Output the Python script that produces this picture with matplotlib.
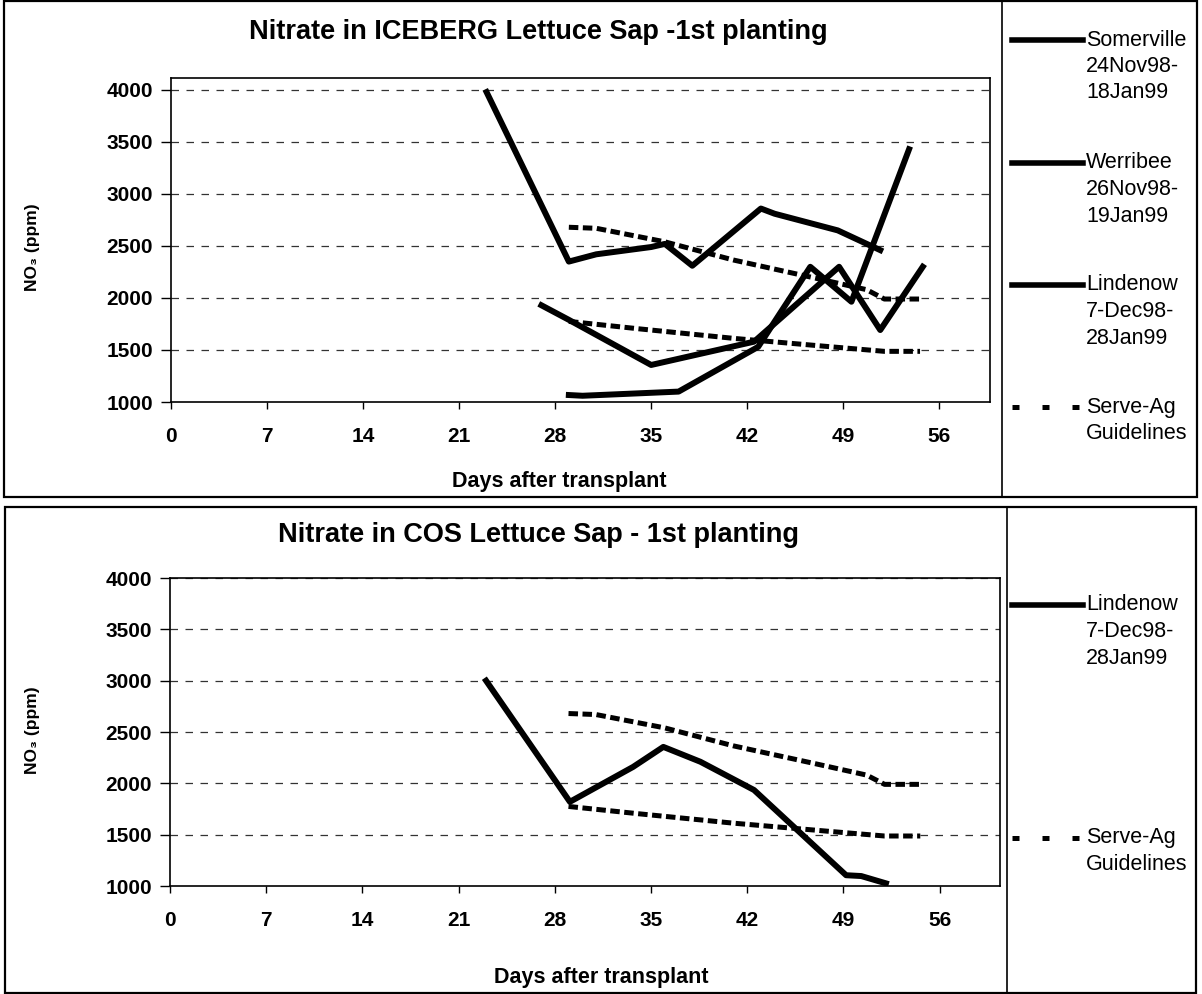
import matplotlib
matplotlib.use("Agg")
import matplotlib.pyplot as plt
from matplotlib.patches import Rectangle

plt.rcParams['font.family'] = ['Liberation Sans', 'DejaVu Sans']

# Nitrate in ICEBERG lettuce sap, 1st planting (days after transplant, ppm)
somerville_days = [23, 29, 31, 35, 36, 38, 43, 44, 48.6, 51.7]
somerville_no3 = [3980, 2350, 2420, 2490, 2520, 2310, 2860, 2810, 2650, 2460]
werribee_days = [27, 29, 35, 42.5, 48.7, 51.7, 54.8]
werribee_no3 = [1930, 1790, 1356, 1580, 2300, 1692, 2300]
lindenow_ice_days = [29, 30, 37, 42.8, 46.6, 49.6, 53.8]
lindenow_ice_no3 = [1067, 1060, 1100, 1530, 2300, 1964, 3430]

# Nitrate in COS lettuce sap, 1st planting
lindenow_cos_days = [23, 29.1, 33.7, 35.9, 38.6, 42.5, 49.2, 50.3, 52.1]
lindenow_cos_no3 = [3000, 1820, 2160, 2355, 2210, 1935, 1105, 1097, 1026]

# Serve-Ag guideline band (upper and lower)
guide_hi_days = [29, 31, 36, 41, 47, 50.7, 52, 54.6]
guide_hi_no3 = [2680, 2670, 2540, 2365, 2190, 2080, 1990, 1990]
guide_lo_days = [29, 34, 41, 48, 52, 54.6]
guide_lo_no3 = [1775, 1705, 1612, 1532, 1487, 1487]

day_ticks = [0, 7, 14, 21, 28, 35, 42, 49, 56]
no3_ticks = [1000, 1500, 2000, 2500, 3000, 3500, 4000]

W, H = 1202, 994
fig = plt.figure(figsize=(W / 100, H / 100), dpi=100)


def px_axes(left, top, right, bottom):
    return fig.add_axes([left / W, 1 - bottom / H, (right - left) / W, (bottom - top) / H])


def style_axes(ax, xmax, ymax):
    ax.set_xlim(0, xmax)
    ax.set_ylim(1000, ymax)
    ax.set_xticks(day_ticks, labels=[str(d) for d in day_ticks],
                  fontsize=15, fontweight='bold')
    ax.set_yticks(no3_ticks, labels=[str(v) for v in no3_ticks],
                  fontsize=15, fontweight='bold')
    ax.tick_params(axis='x', direction='out', length=5, width=1, pad=13)
    ax.tick_params(axis='y', direction='out', length=7, width=1, pad=6)
    for gv in no3_ticks[1:]:
        ax.axhline(gv, color='#333333', lw=0.9, dashes=(6, 6), zorder=1)
    for sp in ax.spines.values():
        sp.set_linewidth(1.2)
        sp.set_color('black')


def guideline(ax):
    ax.plot(guide_hi_days, guide_hi_no3, color='black', lw=3.6,
            dashes=(1.9, 0.9), zorder=3)
    ax.plot(guide_lo_days, guide_lo_no3, color='black', lw=3.6,
            dashes=(1.9, 0.9), zorder=3)


ax1 = px_axes(171, 78, 990, 402)
style_axes(ax1, 59.7, 4115)
guideline(ax1)
for d, v in [(somerville_days, somerville_no3),
             (werribee_days, werribee_no3),
             (lindenow_ice_days, lindenow_ice_no3)]:
    ax1.plot(d, v, color='black', lw=4.3, solid_joinstyle='round', zorder=4)

ax2 = px_axes(170, 578, 1000, 886)
style_axes(ax2, 60.4, 4000)
guideline(ax2)
ax2.plot(lindenow_cos_days, lindenow_cos_no3, color='black', lw=4.3,
         solid_joinstyle='round', zorder=4)

# overlay in pixel coordinates for frames, titles and legends
ov = fig.add_axes([0, 0, 1, 1])
ov.set_xlim(0, W)
ov.set_ylim(H, 0)
ov.axis('off')
ov.patch.set_alpha(0)

ov.add_patch(Rectangle((4, 1), 1193, 496, fill=False, lw=1.6, ec='black'))
ov.add_patch(Rectangle((5, 507), 1191, 486, fill=False, lw=1.6, ec='black'))
ov.plot([1002, 1002], [1, 497], color='black', lw=1.2)
ov.plot([1007, 1007], [507, 993], color='black', lw=1.2)

ov.text(538, 32, 'Nitrate in ICEBERG Lettuce Sap -1st planting',
        ha='center', va='center', fontsize=19.5, fontweight='bold')
ov.text(539, 535, 'Nitrate in COS Lettuce Sap - 1st planting',
        ha='center', va='center', fontsize=19.5, fontweight='bold')
ov.text(559, 481, 'Days after transplant', ha='center', va='center',
        fontsize=15.5, fontweight='bold')
ov.text(601, 978, 'Days after transplant', ha='center', va='center',
        fontsize=15.5, fontweight='bold')
ov.text(32, 247, 'NO₃ (ppm)', ha='center', va='center', rotation=90,
        fontsize=12.5, fontweight='bold')
ov.text(32, 730, 'NO₃ (ppm)', ha='center', va='center', rotation=90,
        fontsize=12.5, fontweight='bold')


def legend_entry(y, lines, dashed=False):
    if dashed:
        ov.plot([1012, 1083], [y, y], color='black', lw=3.6, dashes=(1.4, 4.6))
    else:
        ov.plot([1012, 1083], [y, y], color='black', lw=4.0)
    for i, s in enumerate(lines):
        ov.text(1086, y + i * 26.5, s, ha='left', va='center', fontsize=15.5)


legend_entry(40, ['Somerville', '24Nov98-', '18Jan99'])
legend_entry(163, ['Werribee', '26Nov98-', '19Jan99'])
legend_entry(285, ['Lindenow', '7-Dec98-', '28Jan99'])
legend_entry(407, ['Serve-Ag', 'Guidelines'], dashed=True)
legend_entry(605, ['Lindenow', '7-Dec98-', '28Jan99'])
legend_entry(838, ['Serve-Ag', 'Guidelines'], dashed=True)

fig.savefig('out.png', dpi=100)
